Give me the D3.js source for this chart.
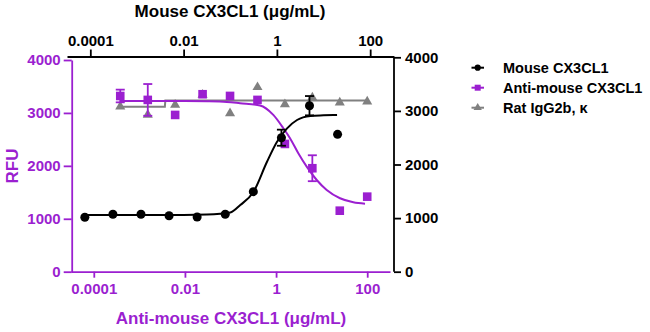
<!DOCTYPE html>
<html><head><meta charset="utf-8">
<script src="https://cdn.jsdelivr.net/npm/d3@7"></script>
<style>
html,body{margin:0;padding:0;background:#fff;}
svg{display:block;font-family:"Liberation Sans",Arial,sans-serif;font-weight:bold;}
</style></head>
<body>
<svg id="chart" width="650" height="332"></svg>
<script>
// ---- data ----
const tickValues = [0.0001, 0.01, 1, 100];
const tickLabels = ["0.0001", "0.01", "1", "100"];
const yTicks = [0, 1000, 2000, 3000, 4000];

// Mouse CX3CL1 (top axis, right axis)
const mouseConc = [0.0000763, 0.000305, 0.00122, 0.00488, 0.0195, 0.0781, 0.3125, 1.25, 5, 20];
const mouseRFU  = [1015, 1071, 1071, 1045, 1020, 1071, 1493, 2500, 3097, 2563];
const mouseErr  = [0, 0, 0, 0, 0, 0, 0, 150, 180, 0];
const mouseFitLogConc = [-4.12, -2.0, -1.5, -1.0, -0.785, -0.5, -0.212, 0.003, 0.218, 0.432, 0.718, 1.0, 1.29];
const mouseFitRFU     = [1058, 1060, 1068, 1105, 1244, 1493, 2052, 2425, 2675, 2830, 2905, 2917, 2925];

// Anti-mouse CX3CL1 (bottom axis, left axis)
const antiConc = [0.000381, 0.00153, 0.0061, 0.0244, 0.0977, 0.391, 1.5625, 6.25, 25, 100];
const antiRFU  = [3320, 3246, 2962, 3353, 3321, 3246, 2414, 1955, 1153, 1418];
const antiErr  = [120, 300, 0, 0, 0, 0, 0, 245, 0, 0];
const antiFitLogConc = [-3.42, -2.0, -1.5, -1.08, -0.791, -0.353, -0.061, 0.159, 0.306, 0.488, 0.672, 0.892, 1.111, 1.403, 1.695, 1.952];
const antiFitRFU     = [3225, 3224, 3220, 3208, 3183, 3140, 2962, 2711, 2522, 2238, 1985, 1733, 1544, 1388, 1312, 1285];

// Rat IgG2b, kappa (bottom axis, left axis)
const ratConc = [0.000381, 0.00153, 0.0061, 0.0244, 0.0977, 0.391, 1.5625, 6.25, 25, 100];
const ratRFU  = [3119, 2962, 3151, 3340, 2994, 3486, 3164, 3290, 3195, 3214];
const ratFitLogConc = [-3.42, -2.44, -2.43, 2.0];
const ratFitRFU     = [3119, 3119, 3236, 3236];

const legendNames = ["Mouse CX3CL1", "Anti-mouse CX3CL1", "Rat IgG2b, κ"];
const topTitle = "Mouse CX3CL1 (μg/mL)";
const bottomTitle = "Anti-mouse CX3CL1 (μg/mL)";
const leftTitle = "RFU";

// ---- drawing ----
const PURPLE = "#9b1fd0", GREY = "#808080", BLACK = "#000";
const svg = d3.select("#chart");

const xTop = d3.scaleLog().domain([Math.pow(10,-4.5), Math.pow(10,2.5)]).range([67, 393.5]);
const xBot = d3.scaleLog().domain([Math.pow(10,-4.5), Math.pow(10,2.5)]).range([71, 390]);
const yLeft = d3.scaleLinear().domain([0, 4000]).range([271.7, 60]);
const yRight = d3.scaleLinear().domain([0, 4000]).range([271.7, 57.3]);

// axes
const fmt = d => tickLabels[tickValues.indexOf(d)];
const yFmt = d3.format("d");
const gTop = svg.append("g").attr("transform","translate(0,56.5)")
  .call(d3.axisTop(xTop).tickValues(tickValues).tickFormat(fmt).tickSize(7).tickSizeOuter(0).tickPadding(4));
const gBot = svg.append("g").attr("transform","translate(0,271.7)")
  .call(d3.axisBottom(xBot).tickValues(tickValues).tickFormat(fmt).tickSize(6).tickSizeOuter(0).tickPadding(6));
const gLeft = svg.append("g").attr("transform","translate(71.7,0)")
  .call(d3.axisLeft(yLeft).tickValues(yTicks).tickFormat(yFmt).tickSize(8).tickSizeOuter(0).tickPadding(3));
const gRight = svg.append("g").attr("transform","translate(394,0)")
  .call(d3.axisRight(yRight).tickValues(yTicks).tickFormat(yFmt).tickSize(7).tickSizeOuter(0).tickPadding(4));

[[gTop,BLACK],[gBot,PURPLE],[gLeft,PURPLE],[gRight,BLACK]].forEach(([g,c])=>{
  g.selectAll("path.domain").attr("stroke",c).attr("stroke-width",1.8);
  g.selectAll(".tick line").attr("stroke",c).attr("stroke-width",1.8);
  g.selectAll(".tick text").attr("fill",c).style("font-size","15px")
    .style("font-family","'Liberation Sans',Arial,sans-serif").style("font-weight","bold");
});
// right axis domain extends to the top axis line
gRight.select("path.domain").attr("d","M0,56.5V271.7");

// titles
svg.append("text").attr("x",230).attr("y",17).attr("text-anchor","middle")
  .style("font-size","17px").attr("fill",BLACK).text(topTitle);
svg.append("text").attr("x",231).attr("y",324).attr("text-anchor","middle")
  .style("font-size","17px").attr("fill",PURPLE).text(bottomTitle);
svg.append("text").attr("transform","translate(18,166) rotate(-90)").attr("text-anchor","middle")
  .style("font-size","17px").attr("fill",PURPLE).text(leftTitle);

// fit lines
function fitLine(logs, vals, xs, ys, color){
  const pts = logs.map((l,i)=>[xs(Math.pow(10,l)), ys(vals[i])]);
  svg.append("path").attr("d", d3.line().curve(d3.curveMonotoneX)(pts))
    .attr("fill","none").attr("stroke",color).attr("stroke-width",2);
}
function fitStep(logs, vals, xs, ys, color){
  const pts = logs.map((l,i)=>[xs(Math.pow(10,l)), ys(vals[i])]);
  svg.append("path").attr("d", d3.line()(pts))
    .attr("fill","none").attr("stroke",color).attr("stroke-width",2);
}
function errBars(conc, vals, errs, xs, ys, color){
  conc.forEach((c,i)=>{
    if(!errs[i]) return;
    const x = xs(c), y1 = ys(vals[i]-errs[i]), y2 = ys(vals[i]+errs[i]);
    svg.append("line").attr("x1",x).attr("x2",x).attr("y1",y1).attr("y2",y2).attr("stroke",color).attr("stroke-width",1.8);
    [y1,y2].forEach(y=>svg.append("line").attr("x1",x-4.5).attr("x2",x+4.5).attr("y1",y).attr("y2",y).attr("stroke",color).attr("stroke-width",1.8));
  });
}
function markers(conc, vals, xs, ys, color, type, size){
  const sym = d3.symbol().type(type).size(size);
  conc.forEach((c,i)=>{
    svg.append("path").attr("d",sym()).attr("fill",color)
      .attr("transform",`translate(${xs(c)},${ys(vals[i])})`);
  });
}

// grey (bottom layer)
fitStep(ratFitLogConc, ratFitRFU, xBot, yLeft, GREY);
markers(ratConc, ratRFU, xBot, yLeft, GREY, d3.symbolTriangle, 44);
// purple
fitLine(antiFitLogConc, antiFitRFU, xBot, yLeft, PURPLE);
errBars(antiConc, antiRFU, antiErr, xBot, yLeft, PURPLE);
markers(antiConc, antiRFU, xBot, yLeft, PURPLE, d3.symbolSquare, 74);
// black
fitLine(mouseFitLogConc, mouseFitRFU, xTop, yRight, BLACK);
errBars(mouseConc, mouseRFU, mouseErr, xTop, yRight, BLACK);
markers(mouseConc, mouseRFU, xTop, yRight, BLACK, d3.symbolCircle, 64);

// legend
const legColors = [BLACK, PURPLE, GREY];
const legTypes = [d3.symbolCircle, d3.symbolSquare, d3.symbolTriangle];
const legSizes = [30, 36, 30];
legendNames.forEach((name,i)=>{
  const y = 67.7 + i*20;
  const g = svg.append("g").attr("transform",`translate(0,${y})`);
  g.append("line").attr("x1",471.5).attr("x2",484).attr("y1",0).attr("y2",0)
    .attr("stroke",legColors[i]).attr("stroke-width",2);
  g.append("path").attr("d",d3.symbol().type(legTypes[i]).size(legSizes[i])())
    .attr("fill",legColors[i]).attr("transform","translate(477.7,0)");
  g.append("text").attr("x",503).attr("y",5).style("font-size","14.5px").attr("fill",BLACK).text(name);
});
</script>
</body></html>
